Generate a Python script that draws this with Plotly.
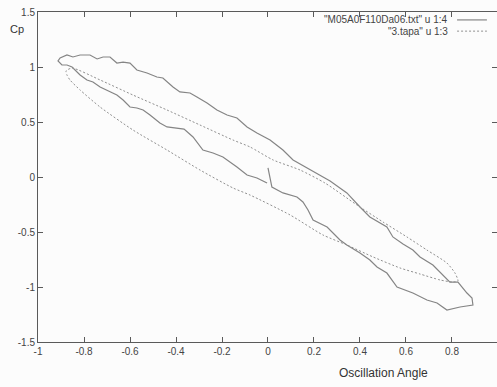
import plotly.graph_objects as go

# Experimental Cp loop ("M05A0F110Da06.txt" u 1:4)
exp_angle = [0.000, 0.017, 0.065, 0.126, 0.152, 0.174, 0.196, 0.257, 0.313, 0.343, 0.400, 0.443,
             0.474, 0.517, 0.561, 0.630, 0.691, 0.735, 0.778, 0.835, 0.891, 0.887, 0.865, 0.826,
             0.791, 0.761, 0.717, 0.661, 0.630, 0.587, 0.543, 0.517, 0.487, 0.443, 0.400, 0.343,
             0.270, 0.183, 0.109, 0.065, 0.009, -0.048, -0.091, -0.135, -0.178, -0.222, -0.265,
             -0.309, -0.339, -0.383, -0.413, -0.457, -0.483, -0.526, -0.570, -0.600, -0.630,
             -0.657, -0.687, -0.717, -0.743, -0.774, -0.817, -0.848, -0.874, -0.904, -0.913,
             -0.896, -0.874, -0.852, -0.817, -0.787, -0.761, -0.730, -0.687, -0.657, -0.630,
             -0.600, -0.570, -0.543, -0.513, -0.470, -0.439, -0.396, -0.365, -0.326, -0.283,
             -0.239, -0.196, -0.135, -0.091, -0.048, -0.004]
exp_cp = [0.082, -0.091, -0.145, -0.182, -0.227, -0.300, -0.391, -0.455, -0.573, -0.618, -0.691, -0.755,
          -0.818, -0.873, -1.000, -1.055, -1.118, -1.145, -1.209, -1.182, -1.164, -1.100, -1.055, -0.955,
          -0.955, -0.891, -0.800, -0.727, -0.664, -0.609, -0.545, -0.455, -0.418, -0.364, -0.273, -0.145,
          -0.036, 0.064, 0.155, 0.245, 0.336, 0.400, 0.455, 0.536, 0.564, 0.609, 0.673,
          0.727, 0.764, 0.773, 0.818, 0.900, 0.909, 0.945, 0.973, 1.036, 1.045,
          1.036, 1.091, 1.091, 1.073, 1.109, 1.109, 1.091, 1.109, 1.082, 1.055,
          1.018, 1.018, 1.000, 0.927, 0.882, 0.864, 0.818, 0.773, 0.745, 0.700,
          0.636, 0.627, 0.609, 0.564, 0.491, 0.455, 0.445, 0.436, 0.364, 0.245,
          0.218, 0.182, 0.091, 0.018, -0.009, -0.055]

# Theoretical Cp loop ("3.tapa" u 1:3)
th_angle = [-0.878, -0.852, -0.730, -0.587, -0.439, -0.296, -0.152, -0.078, 0.022, 0.139, 0.248,
            0.387, 0.500, 0.604, 0.691, 0.778, 0.813, 0.826, 0.804, 0.748, 0.661, 0.574, 0.457,
            0.343, 0.239, 0.096, -0.078, -0.152, -0.296, -0.439, -0.587, -0.730, -0.817, -0.861,
            -0.874, -0.878]
th_cp = [0.964, 0.991, 0.882, 0.745, 0.609, 0.473, 0.336, 0.273, 0.155, 0.064, -0.055,
         -0.255, -0.409, -0.545, -0.664, -0.782, -0.873, -0.945, -0.955, -0.936, -0.882, -0.827, -0.727,
         -0.618, -0.527, -0.345, -0.164, -0.100, 0.064, 0.245, 0.427, 0.636, 0.791, 0.882,
         0.927, 0.964]

x_ticks = [-1, -0.8, -0.6, -0.4, -0.2, 0, 0.2, 0.4, 0.6, 0.8, 1]
x_labels = ["-1", "-0.8", "-0.6", "-0.4", "-0.2", "0", "0.2", "0.4", "0.6", "0.8", "1"]
y_ticks = [-1.5, -1, -0.5, 0, 0.5, 1, 1.5]
y_labels = ["-1.5", "-1", "-0.5", "0", "0.5", "1", "1.5"]

legend_labels = ['"M05A0F110Da06.txt" u 1:4', '"3.tapa" u 1:3']

SOLID = "#858585"
DASH = "#909090"
FRAME = "#5a5a5a"
FONT = "Liberation Sans, Arial, sans-serif"

fig = go.Figure()
fig.add_trace(go.Scatter(x=exp_angle, y=exp_cp, mode="lines",
                         line=dict(color=SOLID, width=1.2), showlegend=False))
fig.add_trace(go.Scatter(x=th_angle, y=th_cp, mode="lines",
                         line=dict(color=DASH, width=1, dash="2px,2px", shape="spline", smoothing=0.6),
                         showlegend=False))

axis_common = dict(showline=True, linecolor=FRAME, linewidth=1, mirror="ticks",
                   ticks="inside", ticklen=5, tickcolor=FRAME, tickwidth=1,
                   showgrid=False, zeroline=False,
                   tickfont=dict(family=FONT, size=10, color="#444444"))

fig.update_xaxes(range=[-1, 0.9957], tickvals=x_ticks, ticktext=x_labels, **axis_common)
fig.update_yaxes(range=[-1.5, 1.5], tickvals=y_ticks, ticktext=y_labels, **axis_common)

annotations = [
    dict(text="Cp", xref="paper", yref="paper", x=-0.046, y=0.948, showarrow=False,
         font=dict(family=FONT, size=11, color="#333333"), xanchor="center", yanchor="middle"),
    dict(text="Oscillation Angle", xref="paper", yref="paper", x=0.752, y=-0.094, showarrow=False,
         font=dict(family=FONT, size=12, color="#333333"), xanchor="center", yanchor="middle"),
]
leg_y = [0.976, 0.942]
for lab, yy in zip(legend_labels, leg_y):
    annotations.append(dict(text=lab, xref="paper", yref="paper", x=0.8976, y=yy, showarrow=False,
                            font=dict(family=FONT, size=10, color="#444444"),
                            xanchor="right", yanchor="middle"))

shapes = [
    dict(type="line", xref="paper", yref="paper", x0=0.913, x1=0.978, y0=leg_y[0], y1=leg_y[0],
         line=dict(color=SOLID, width=1.2)),
    dict(type="line", xref="paper", yref="paper", x0=0.913, x1=0.978, y0=leg_y[1], y1=leg_y[1],
         line=dict(color=DASH, width=1, dash="2px,2px")),
]

fig.update_layout(width=497, height=387,
                  margin=dict(l=38, r=0, t=12, b=45),
                  paper_bgcolor="#fcfcfc", plot_bgcolor="#fcfcfc",
                  annotations=annotations, shapes=shapes, showlegend=False)

fig.write_html("out.html")
